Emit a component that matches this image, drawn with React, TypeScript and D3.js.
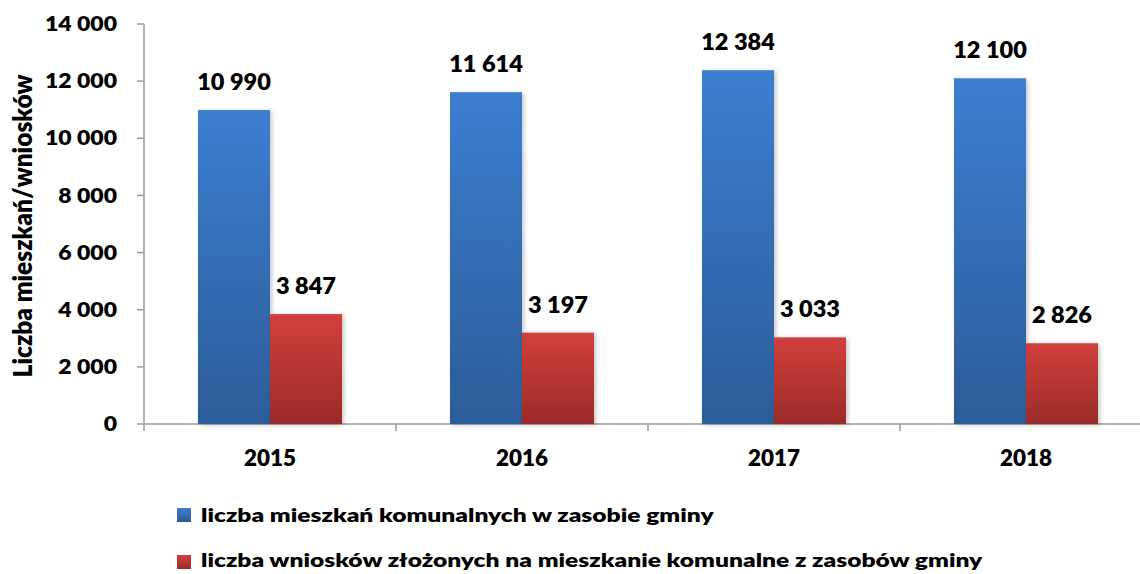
import React from "react";
import * as d3 from "d3";

const categories = ["2015", "2016", "2017", "2018"];
const seriesNames = [
  "liczba mieszkań komunalnych w zasobie gminy",
  "liczba wniosków złożonych na mieszkanie komunalne z zasobów gminy",
];
const flats = [10990, 11614, 12384, 12100];
const applications = [3847, 3197, 3033, 2826];
const yTicks = [0, 2000, 4000, 6000, 8000, 10000, 12000, 14000];
const yTitle = "Liczba mieszkań/wniosków";

const W = 1140;
const H = 574;
const left = 144;
const right = 1152;
const top = 24;
const bottom = 424;
const FONT = "Lato, 'Open Sans', sans-serif";
const WEIGHT = 800;

const fmt = (v: number) => {
  const s = String(v);
  return s.length > 3 ? s.slice(0, s.length - 3) + " " + s.slice(-3) : s;
};

function T({ x, y, anchor = "start", size, sx = 1, dy, children }: any) {
  return (
    <text
      transform={`translate(${x},${y}) scale(${sx},1)`}
      textAnchor={anchor}
      dy={dy}
      fontFamily={FONT}
      fontWeight={WEIGHT}
      fontSize={size}
      fill="#000"
    >
      {children}
    </text>
  );
}

export default function App() {
  const x = d3.scaleBand<string>().domain(categories).range([left, right]);
  const y = d3.scaleLinear().domain([0, 14000]).range([bottom, top]);
  const barW = 72;
  const series = [flats, applications];
  const grads = ["gBlue", "gRed"];

  return (
    <svg width={W} height={H} style={{ position: "absolute", left: 0, top: 0, background: "#fff" }}>
      <defs>
        <linearGradient id="gBlue" x1="0" y1="0" x2="0" y2="1">
          <stop offset="0" stopColor="#3c7ed0" />
          <stop offset="1" stopColor="#2c5c98" />
        </linearGradient>
        <linearGradient id="gRed" x1="0" y1="0" x2="0" y2="1">
          <stop offset="0" stopColor="#d13f3c" />
          <stop offset="1" stopColor="#9a2b29" />
        </linearGradient>
        <filter id="shadow" x="-20%" y="-10%" width="140%" height="120%">
          <feDropShadow dx="2" dy="1" stdDeviation="2" floodColor="#000" floodOpacity="0.22" />
        </filter>
      </defs>

      {/* y axis */}
      <line x1={left} x2={left} y1={top} y2={bottom} stroke="#9a9a9a" strokeWidth={1.5} />
      {yTicks.map((t) => (
        <g key={t}>
          <line x1={left - 7} x2={left} y1={y(t)} y2={y(t)} stroke="#9a9a9a" strokeWidth={1.5} />
          <T x={left - 27} y={y(t)} dy="0.36em" anchor="end" size={20} sx={1.15}>
            {fmt(t)}
          </T>
        </g>
      ))}
      {/* x axis */}
      <line x1={left} x2={right} y1={bottom} y2={bottom} stroke="#9a9a9a" strokeWidth={1.5} />
      {[...categories.map((c) => x(c)!), right].map((v, i) => (
        <line key={i} x1={v} x2={v} y1={bottom} y2={bottom + 7} stroke="#9a9a9a" strokeWidth={1.5} />
      ))}
      {categories.map((c) => (
        <T key={c} x={x(c)! + x.bandwidth() / 2} y={466} anchor="middle" size={22} sx={1.02}>
          {c}
        </T>
      ))}

      {/* bars */}
      {series.map((vals, si) =>
        categories.map((c, i) => {
          const cx = x(c)! + x.bandwidth() / 2;
          const bx = cx - barW + si * barW;
          return (
            <g key={c + si}>
              <rect x={bx} y={y(vals[i])} width={barW} height={bottom - y(vals[i])} fill={`url(#${grads[si]})`} filter="url(#shadow)" />
              <T x={bx + barW / 2} y={y(vals[i]) - 20} anchor="middle" size={22} sx={1.07}>
                {fmt(vals[i])}
              </T>
            </g>
          );
        })
      )}

      {/* y title */}
      <text
        transform={`translate(32, 226) scale(1.07,1) rotate(-90)`}
        textAnchor="middle"
        fontFamily={FONT}
        fontWeight={WEIGHT}
        fontSize={24.5}
        fill="#000"
      >
        {yTitle}
      </text>

      {/* legend */}
      {seriesNames.map((n, i) => (
        <g key={n}>
          <rect x={177} y={508 + i * 47} width={14} height={14} fill={`url(#${grads[i]})`} />
          <T x={201} y={522 + i * 45} size={19.5} sx={1.26}>
            {n}
          </T>
        </g>
      ))}
    </svg>
  );
}
